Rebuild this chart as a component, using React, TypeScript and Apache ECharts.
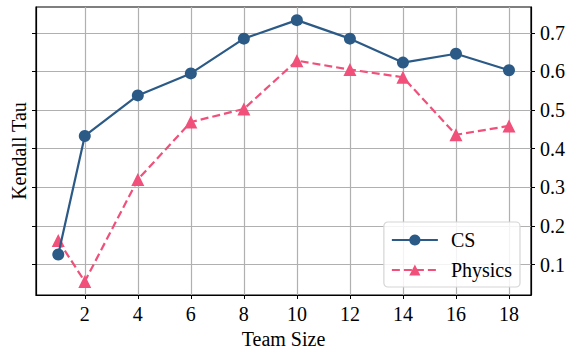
import React, { useEffect, useRef } from "react";
import * as echarts from "echarts";

const teamSizes = [1, 2, 4, 6, 8, 10, 12, 14, 16, 18];
const csValues = [0.126, 0.433, 0.538, 0.595, 0.685, 0.733, 0.685, 0.623, 0.646, 0.603];
const physicsValues = [0.162, 0.056, 0.32, 0.469, 0.503, 0.628, 0.605, 0.585, 0.436, 0.459];
const xTicks = [2, 4, 6, 8, 10, 12, 14, 16, 18];
const yTicks = [0.1, 0.2, 0.3, 0.4, 0.5, 0.6, 0.7];

const FONT = "Liberation Serif";

export default function App() {
  const ref = useRef<HTMLDivElement>(null);
  useEffect(() => {
    if (!ref.current) return;
    const chart = echarts.init(ref.current, undefined, { renderer: "svg" });
    const yBase = {
      type: "value" as const,
      min: 0.021,
      max: 0.767,
      axisLine: { show: true, lineStyle: { color: "#000", width: 1.2 } },
      axisTick: { show: true, customValues: yTicks, length: 4, inside: false, lineStyle: { color: "#000" } },
    };
    chart.setOption({
      animation: false,
      backgroundColor: "#fff",
      grid: {
        left: 36,
        right: 43,
        top: 7,
        bottom: 56,
        containLabel: false,
        show: true,
        borderColor: "#000",
        borderWidth: 1.2,
        backgroundColor: "transparent",
      },
      xAxis: {
        type: "value",
        min: 0.16,
        max: 18.83,
        name: "Team Size",
        nameLocation: "middle",
        nameGap: 34,
        nameTextStyle: { fontFamily: FONT, fontSize: 20, color: "#000" },
        axisLine: { show: true, onZero: false, lineStyle: { color: "#000", width: 1.2 } },
        axisTick: { show: true, customValues: xTicks, length: 4, lineStyle: { color: "#000" } },
        axisLabel: { customValues: xTicks, fontFamily: FONT, fontSize: 20, color: "#000", margin: 9 },
        splitLine: { show: true, lineStyle: { color: "#b0b0b0", width: 1.2 } },
      },
      yAxis: [
        {
          ...yBase,
          position: "left",
          name: "Kendall Tau",
          nameLocation: "middle",
          nameGap: 7,
          nameTextStyle: { fontFamily: FONT, fontSize: 20, color: "#000" },
          axisLabel: { show: false, customValues: yTicks },
          splitLine: { show: true, lineStyle: { color: "#b0b0b0", width: 1.2 } },
        },
        {
          ...yBase,
          position: "right",
          axisLabel: { show: true, customValues: yTicks, fontFamily: FONT, fontSize: 20, color: "#000", margin: 9 },
          splitLine: { show: false },
        },
      ],
      legend: {
        right: 54,
        bottom: 67,
        orient: "vertical",
        itemWidth: 46,
        itemHeight: 14,
        itemGap: 10,
        padding: [8, 8, 7, 7],
        backgroundColor: "rgba(255,255,255,0.85)",
        borderColor: "#d5d5d5",
        borderWidth: 1.2,
        borderRadius: 4,
        textStyle: { fontFamily: FONT, fontSize: 20, color: "#000", padding: [0, 0, 0, 8] },
        data: ["CS", "Physics"],
      },
      series: [
        {
          name: "CS",
          type: "line",
          data: teamSizes.map((x, i) => [x, csValues[i]]),
          symbol: "circle",
          symbolSize: 12,
          itemStyle: { color: "#2b5a86" },
          lineStyle: { color: "#2b5a86", width: 2.2 },
          z: 3,
        },
        {
          name: "Physics",
          type: "line",
          data: teamSizes.map((x, i) => [x, physicsValues[i]]),
          symbol: "triangle",
          symbolSize: 13,
          itemStyle: { color: "#f0507a" },
          lineStyle: { color: "#f0507a", width: 2.2, type: [8, 4] },
          z: 2,
        },
      ],
    });
    return () => chart.dispose();
  }, []);
  return (
    <div
      ref={ref}
      style={{ position: "fixed", left: 0, top: 0, width: 574, height: 354 }}
    />
  );
}
